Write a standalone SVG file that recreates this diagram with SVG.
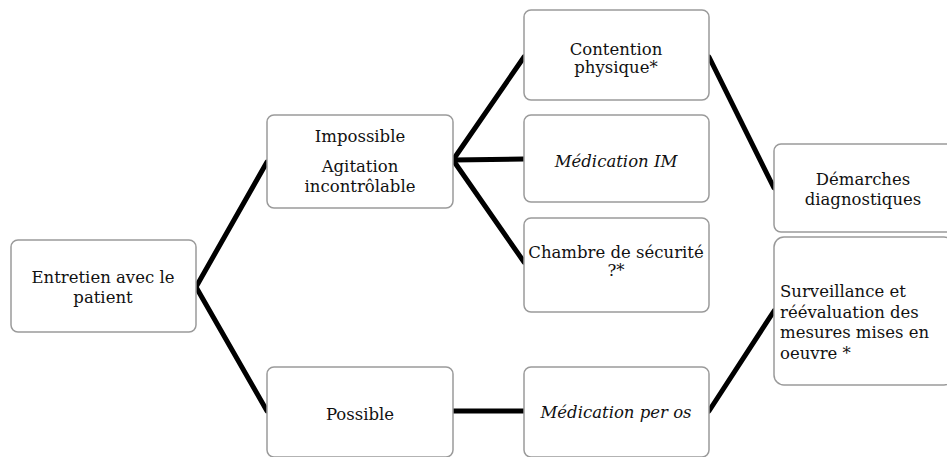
<svg xmlns="http://www.w3.org/2000/svg" width="947" height="457" viewBox="0 0 947 457">
<style>
.box{fill:#fff;stroke:#9a9a9a;stroke-width:1.5}
text{font-family:"DejaVu Serif","Liberation Serif",serif;font-size:16.5px;fill:#111;text-anchor:middle}
.it{font-style:italic}
.l{text-anchor:start;font-size:16.5px}
.c{stroke:#000;stroke-width:5;fill:none;stroke-linecap:round}
</style>
<rect width="947" height="457" fill="#fff"/>
<g id="connectors">
<line class="c" x1="196" y1="287" x2="267" y2="162"/>
<line class="c" x1="196" y1="287" x2="267" y2="411"/>
<line class="c" x1="453" y1="160" x2="524" y2="57"/>
<line class="c" x1="453" y1="160" x2="524" y2="159"/>
<line class="c" x1="453" y1="160" x2="524" y2="262"/>
<line class="c" x1="453" y1="411" x2="524" y2="411"/>
<line class="c" x1="709" y1="57" x2="774" y2="188"/>
<line class="c" x1="709" y1="411" x2="774" y2="311"/>
</g>
<g id="n1">
<rect class="box" x="11" y="240" width="185" height="92" rx="7"/>
<text x="103" y="283">Entretien avec le</text>
<text x="103" y="303">patient</text>
</g>
<g id="n2">
<rect class="box" x="267" y="115" width="186" height="93" rx="7"/>
<text x="360" y="142">Impossible</text>
<text x="360" y="172">Agitation</text>
<text x="360" y="192">incontrôlable</text>
</g>
<g id="n3">
<rect class="box" x="267" y="367" width="186" height="90" rx="7"/>
<text x="360" y="420">Possible</text>
</g>
<g id="n4">
<rect class="box" x="524" y="10" width="185" height="90" rx="7"/>
<text x="616" y="55">Contention</text>
<text x="616" y="73">physique*</text>
</g>
<g id="n5">
<rect class="box" x="524" y="115" width="185" height="87" rx="7"/>
<text class="it" x="616" y="167">Médication IM</text>
</g>
<g id="n6">
<rect class="box" x="524" y="218" width="185" height="94" rx="7"/>
<text x="616" y="258">Chambre de sécurité</text>
<text x="616" y="276">?*</text>
</g>
<g id="n7">
<rect class="box" x="524" y="367" width="185" height="90" rx="7"/>
<text class="it" x="616" y="418">Médication per os</text>
</g>
<g id="n8">
<rect class="box" x="774" y="144" width="180" height="88" rx="7"/>
<text x="863" y="185">Démarches</text>
<text x="863" y="205">diagnostiques</text>
</g>
<g id="n9">
<rect class="box" x="774" y="237" width="180" height="148" rx="10"/>
<text class="l" x="780" y="297">Surveillance et</text>
<text class="l" x="780" y="318">réévaluation des</text>
<text class="l" x="780" y="338">mesures mises en</text>
<text class="l" x="780" y="359">oeuvre *</text>
</g>
</svg>
